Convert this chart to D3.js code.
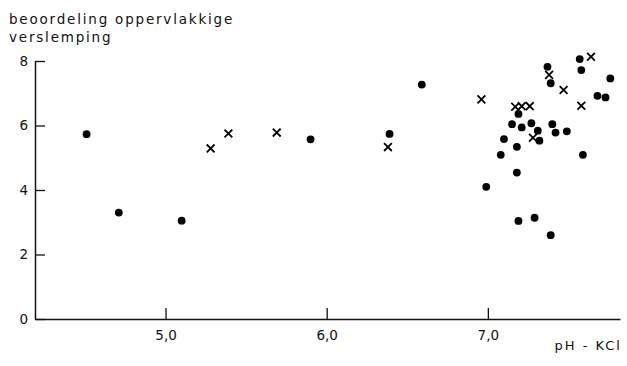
<!DOCTYPE html>
<html>
<head>
<meta charset="utf-8">
<script src="https://cdn.jsdelivr.net/npm/d3@7"></script>
<style>
  body { margin: 0; background: #fff; }
  text { font-family: "DejaVu Sans", sans-serif; fill: #111; }
</style>
</head>
<body>
<svg id="chart" width="627" height="366"></svg>
<script>
// closed dots: pH-KCl and score
const dotPH = [4.51, 4.71, 5.10, 5.90, 6.39, 6.59, 7.37, 7.39, 7.57, 7.58, 7.76, 7.68, 7.73,
  7.19, 7.15, 7.21, 7.27, 7.31, 7.32, 7.40, 7.42, 7.49, 7.10, 7.18, 7.08, 7.59, 7.18, 6.99,
  7.19, 7.29, 7.39];
const dotScore = [5.73, 3.30, 3.05, 5.57, 5.74, 7.27, 7.82, 7.31, 8.06, 7.72, 7.46, 6.92, 6.87,
  6.36, 6.04, 5.94, 6.07, 5.84, 5.53, 6.04, 5.78, 5.82, 5.58, 5.34, 5.09, 5.09, 4.54, 4.10,
  3.04, 3.14, 2.60];

// crosses
const crossPH = [5.28, 5.39, 5.69, 6.38, 6.96, 7.38, 7.64, 7.47, 7.17, 7.21, 7.26, 7.58, 7.28];
const crossScore = [5.29, 5.75, 5.78, 5.33, 6.81, 7.57, 8.13, 7.10, 6.58, 6.60, 6.60, 6.61, 5.62];

const xTicks = [5, 6, 7];
const yTicks = [0, 2, 4, 6, 8];
const yTitle = ["beoordeling oppervlakkige", "verslemping"];
const xTitle = "pH - KCl";

const svg = d3.select("#chart");

const x = d3.scaleLinear().domain([4.19, 7.82]).range([35, 620]);
const y = d3.scaleLinear().domain([0, 8]).range([319, 61]);

// y axis, ticks pointing inward
const yAxis = svg.append("g")
  .attr("transform", "translate(35,0)")
  .call(d3.axisLeft(y).tickValues(yTicks).tickSizeInner(-10).tickSizeOuter(0)
    .tickPadding(7).tickFormat(d3.format("d")));
yAxis.select(".domain").attr("stroke", "#111").attr("stroke-width", 1.5);
yAxis.selectAll(".tick line").attr("stroke", "#111").attr("stroke-width", 1.3);
yAxis.selectAll(".tick text").style("font-size", "13.5px").attr("fill", "#111");

// x axis
const xAxis = svg.append("g")
  .attr("transform", "translate(0,319)")
  .call(d3.axisBottom(x).tickValues(xTicks).tickSizeInner(-11).tickSizeOuter(0)
    .tickPadding(11).tickFormat(d => d.toFixed(1).replace(".", ",")));
xAxis.select(".domain").attr("stroke", "#111").attr("stroke-width", 1.3);
xAxis.selectAll(".tick line").attr("stroke", "#111").attr("stroke-width", 1.3);
xAxis.selectAll(".tick text").style("font-size", "13.5px").attr("fill", "#111");

// titles
svg.selectAll(".ytitle")
  .data(yTitle)
  .enter()
  .append("text")
  .attr("class", "ytitle")
  .attr("x", 9)
  .attr("y", (d, i) => 24 + i * 18)
  .style("font-size", "13.5px")
  .style("letter-spacing", "1.8px")
  .text(d => d);

svg.append("text")
  .attr("x", 622)
  .attr("y", 350)
  .attr("text-anchor", "end")
  .style("font-size", "13px")
  .style("letter-spacing", "2px")
  .text(xTitle);

// dots
svg.selectAll(".dot")
  .data(dotPH.map((p, i) => [p, dotScore[i]]))
  .enter()
  .append("circle")
  .attr("class", "dot")
  .attr("cx", d => x(d[0]))
  .attr("cy", d => y(d[1]))
  .attr("r", 3.9)
  .attr("fill", "#000");

// crosses
const s = 3.9;
svg.selectAll(".cross")
  .data(crossPH.map((p, i) => [p, crossScore[i]]))
  .enter()
  .append("path")
  .attr("class", "cross")
  .attr("d", d => {
    const cx = x(d[0]), cy = y(d[1]);
    return `M${cx - s},${cy - s}L${cx + s},${cy + s}M${cx - s},${cy + s}L${cx + s},${cy - s}`;
  })
  .attr("stroke", "#000")
  .attr("stroke-width", 1.8)
  .attr("fill", "none");
</script>
</body>
</html>
